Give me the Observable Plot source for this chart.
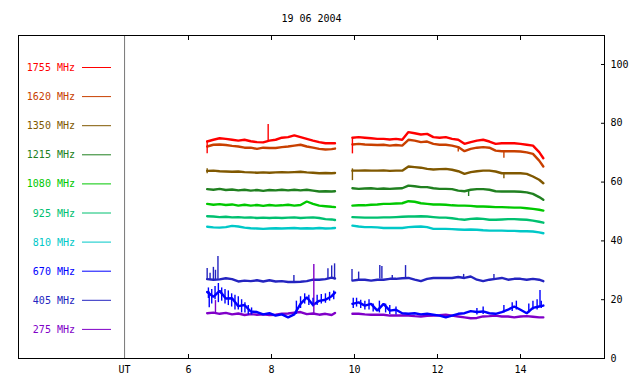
<!DOCTYPE html>
<html><head><meta charset="utf-8">
<script src="https://cdn.jsdelivr.net/npm/d3@7"></script>
<script src="https://cdn.jsdelivr.net/npm/@observablehq/plot@0.6"></script>
<style>
body{margin:0;background:#fff;}
#chart svg{display:block;}
</style></head><body><div id="chart"></div>
<script>
const title = "19 06 2004";
const freqs = [1755, 1620, 1350, 1215, 1080, 925, 810, 670, 405, 275];
const colors = ["#ff0000", "#c84000", "#805800", "#208020", "#00c800", "#00c070", "#00c8c8", "#0000ff", "#2424c0", "#8000c8"];
const xTicks = [6, 8, 10, 12, 14];
const yTicks = [0, 20, 40, 60, 80, 100];
const utStart = 4.46;

// sample times (UT hours); 9.75 is the data gap
const T = [6.45, 6.60, 6.75, 6.90, 7.05, 7.20, 7.35, 7.50, 7.65, 7.80, 7.95, 8.10, 8.25, 8.40, 8.55, 8.70, 8.85, 9.00, 9.15, 9.30, 9.45, 9.53,
  9.75,
  9.95, 10.10, 10.25, 10.40, 10.55, 10.70, 10.85, 11.00, 11.15, 11.30, 11.45, 11.60, 11.75, 11.90, 12.05, 12.20, 12.35, 12.50, 12.65, 12.80, 12.95, 13.10, 13.25, 13.40, 13.55, 13.70, 13.85, 14.00, 14.15, 14.30, 14.45, 14.55];

const s1755 = [73.8, 74.4, 74.9, 74.7, 74.4, 74.1, 74.4, 73.9, 73.6, 73.5, 74.1, 74.4, 75.1, 75.3, 75.9, 75.3, 74.7, 74.1, 73.6, 73.2, 73.2, 73.2,
  null,
  75.1, 75.3, 75.1, 74.9, 74.7, 74.7, 74.5, 74.7, 74.4, 77.0, 76.6, 76.2, 76.4, 75.3, 75.1, 75.3, 74.7, 74.4, 73.0, 73.6, 74.1, 74.4, 73.8, 73.0, 73.2, 73.2, 73.2, 73.0, 72.7, 72.4, 70.2, 68.1];
const s1620 = [72.1, 72.7, 72.8, 72.6, 72.3, 72.1, 71.7, 71.7, 71.3, 71.7, 71.6, 71.6, 71.9, 72.1, 72.4, 72.7, 72.1, 71.7, 71.3, 71.1, 71.2, 71.4,
  null,
  72.8, 73.0, 72.8, 72.7, 72.6, 72.7, 72.4, 72.6, 72.4, 74.4, 74.1, 73.6, 73.8, 73.0, 72.7, 72.7, 72.4, 71.9, 70.5, 71.3, 71.7, 71.9, 71.7, 70.7, 70.5, 70.5, 70.5, 70.4, 70.1, 69.6, 67.3, 65.3];
const s1350 = [63.8, 63.9, 63.7, 63.6, 63.5, 63.6, 63.4, 63.3, 63.2, 63.3, 63.2, 63.3, 63.4, 63.3, 63.4, 63.5, 63.3, 63.2, 63.0, 63.1, 63.0, 63.1,
  null,
  63.9, 63.9, 64.0, 63.9, 63.9, 64.0, 63.8, 63.9, 63.9, 65.3, 65.1, 64.9, 64.5, 64.3, 64.4, 64.5, 64.2, 63.7, 62.8, 63.4, 63.7, 63.9, 63.9, 63.6, 63.0, 63.0, 63.0, 63.0, 62.8, 61.9, 60.8, 59.6];
const s1215 = [57.6, 57.4, 57.7, 57.3, 57.5, 57.2, 57.4, 57.1, 57.3, 57.0, 57.3, 57.2, 57.4, 57.2, 57.4, 57.2, 57.4, 57.1, 56.8, 56.9, 56.8, 56.9,
  null,
  57.9, 57.7, 57.8, 57.9, 57.7, 57.8, 57.7, 57.8, 57.9, 58.8, 58.6, 58.3, 58.3, 57.9, 57.7, 57.7, 57.6, 57.1, 56.9, 57.4, 57.6, 57.6, 57.4, 56.9, 56.8, 56.8, 56.8, 56.7, 56.5, 56.0, 54.9, 54.0];
const s1080 = [52.6, 52.3, 52.5, 52.2, 52.4, 52.0, 52.3, 52.0, 52.2, 51.9, 52.2, 52.0, 52.1, 52.3, 52.0, 52.2, 53.4, 52.6, 52.0, 51.8, 51.6, 51.5,
  null,
  52.0, 52.1, 52.1, 52.3, 52.4, 52.6, 52.6, 52.7, 52.8, 53.5, 53.3, 52.8, 52.6, 52.4, 52.4, 52.3, 52.1, 52.0, 52.0, 51.9, 51.7, 51.7, 51.6, 51.5, 51.5, 51.4, 51.3, 51.3, 51.1, 50.9, 50.6, 50.3];
const s925 = [48.4, 48.3, 48.1, 48.2, 48.0, 48.1, 47.9, 48.0, 47.8, 47.9, 47.8, 47.9, 47.8, 47.9, 48.0, 47.8, 47.9, 48.0, 47.8, 47.4, 47.3, 47.1,
  null,
  48.1, 48.0, 47.9, 47.9, 47.9, 48.0, 48.0, 48.1, 48.2, 48.3, 48.3, 48.4, 48.3, 48.1, 47.9, 47.9, 47.7, 47.4, 47.2, 47.5, 47.6, 47.5, 47.2, 47.2, 47.3, 47.4, 47.4, 47.3, 47.2, 46.9, 46.5, 46.2];
const s810 = [44.8, 44.6, 44.5, 44.7, 45.1, 44.9, 44.5, 44.3, 44.2, 44.1, 44.2, 44.3, 44.2, 44.3, 44.4, 44.2, 44.3, 44.2, 44.4, 44.2, 44.3, 44.4,
  null,
  45.2, 44.9, 44.7, 44.7, 44.6, 44.4, 44.4, 44.4, 44.4, 44.7, 44.8, 44.9, 44.7, 44.1, 44.1, 44.1, 44.0, 43.9, 43.8, 43.9, 43.8, 43.6, 43.5, 43.5, 43.5, 43.4, 43.4, 43.3, 43.3, 43.2, 42.9, 42.6];
const s670 = [22.6, 21.0, 23.0, 20.4, 20.5, 17.8, 18.2, 16.0, 15.8, 15.0, 15.4, 14.6, 15.0, 14.0, 15.0, 18.6, 20.8, 18.2, 19.6, 20.0, 21.2, 22.4,
  null,
  18.6, 19.1, 18.0, 18.6, 16.3, 18.6, 16.3, 16.6, 15.4, 15.2, 15.4, 15.0, 15.2, 14.9, 14.6, 14.0, 14.6, 15.2, 15.4, 16.1, 15.8, 16.0, 15.4, 15.2, 15.8, 16.6, 17.7, 16.6, 15.4, 17.2, 17.7, 18.0];
const s405 = [27.0, 26.8, 26.9, 27.3, 27.0, 26.2, 26.5, 26.3, 26.6, 26.2, 26.6, 26.2, 26.3, 26.0, 26.0, 26.1, 26.3, 26.8, 26.8, 27.0, 27.5, 27.2,
  null,
  26.5, 26.8, 26.8, 26.5, 26.8, 26.8, 27.1, 27.1, 27.3, 27.4, 26.8, 26.3, 27.1, 27.4, 27.4, 27.4, 27.4, 27.7, 27.4, 27.9, 26.8, 26.3, 26.8, 27.1, 27.4, 26.8, 27.1, 27.1, 26.8, 27.1, 26.8, 26.3];
const s275 = [15.4, 15.6, 15.2, 15.5, 15.0, 15.3, 14.8, 15.1, 14.9, 15.0, 14.8, 14.9, 15.2, 15.3, 15.6, 15.8, 15.1, 15.3, 14.9, 15.2, 14.8, 15.5,
  null,
  15.2, 15.2, 15.0, 14.9, 14.9, 14.9, 14.6, 14.6, 14.6, 14.6, 14.4, 14.3, 14.5, 14.6, 14.7, 14.9, 14.6, 14.3, 14.0, 13.7, 13.8, 14.3, 14.4, 14.6, 14.3, 14.3, 14.0, 14.3, 14.4, 14.2, 14.0, 14.0];

// spikes / noise bursts: [time, low, high]
const spikes1755 = [[6.45, 69.6, 74.0], [7.92, 74.0, 79.6], [9.95, 69.6, 75.1]];
const spikes1620 = [[12.5, 70.2, 72.0], [13.6, 68.1, 70.5]];
const spikes1350 = [[6.45, 62.8, 64.5], [9.95, 60.5, 64.5], [13.6, 61.1, 63.0]];
const spikes1215 = [[12.75, 55.1, 57.0]];
const spikes670 = [[6.48, 20.4, 24.0], [6.50, 17.3, 22.6], [6.56, 18.5, 23.5], [6.64, 20.0, 24.5], [6.72, 19.0, 25.5], [6.80, 19.5, 24.0],
  [6.88, 18.5, 23.5], [6.96, 18.0, 23.0], [7.04, 17.5, 22.0], [7.12, 16.5, 21.5], [7.20, 16.5, 21.0], [7.28, 15.5, 20.0],
  [7.36, 15.5, 19.0], [7.44, 14.8, 18.0], [7.52, 14.8, 17.2], [8.60, 15.0, 19.5], [8.70, 17.0, 21.0], [8.80, 18.5, 22.0],
  [8.90, 18.0, 21.5], [9.00, 17.5, 20.5], [9.10, 18.0, 21.5], [9.20, 18.5, 21.8], [9.30, 18.8, 22.0], [9.40, 19.5, 22.5], [9.50, 20.0, 23.0],
  [9.97, 17.0, 20.5], [10.05, 17.5, 20.5], [10.15, 17.0, 19.8], [10.25, 16.5, 19.5], [10.35, 16.5, 20.0], [10.45, 15.8, 18.5],
  [10.60, 15.5, 19.5], [10.75, 15.5, 18.5], [10.85, 15.0, 18.0], [11.00, 14.8, 17.5], [12.95, 14.8, 17.0], [13.10, 15.0, 17.5],
  [13.60, 15.5, 18.0], [13.80, 16.0, 19.0], [13.90, 16.5, 19.5], [14.20, 15.5, 18.5], [14.30, 16.5, 19.5], [14.40, 16.5, 20.0],
  [14.47, 17.7, 23.1], [14.50, 17.0, 19.5]];
const spikes405 = [[6.45, 26.5, 30.6], [6.52, 26.5, 29.0], [6.60, 26.5, 31.0], [6.65, 26.5, 30.0], [6.71, 26.5, 34.7], [8.54, 26.0, 28.2],
  [9.36, 27.0, 30.5], [9.45, 27.0, 31.5], [9.52, 27.0, 32.2], [9.94, 26.5, 30.3], [10.10, 26.8, 29.4], [10.61, 27.0, 31.6],
  [10.66, 27.0, 31.3], [10.91, 27.1, 28.2], [11.23, 27.4, 31.6], [12.63, 27.4, 28.6], [13.36, 27.1, 28.6]];
const spikes275 = [[6.65, 15.4, 19.7], [9.02, 15.3, 32.0]];

const series = {1755: s1755, 1620: s1620, 1350: s1350, 1215: s1215, 1080: s1080, 925: s925, 810: s810, 670: s670, 405: s405, 275: s275};
const spikes = {1755: spikes1755, 1620: spikes1620, 1350: spikes1350, 1215: spikes1215, 670: spikes670, 405: spikes405, 275: spikes275};

const rows = [];
[...freqs].reverse().forEach(f => series[f].forEach((v, i) => rows.push({t: T[i], v, f: String(f)})));
const spikeRows = [];
[...freqs].reverse().forEach(f => (spikes[f] || []).forEach(([t, lo, hi]) => spikeRows.push({t, lo, hi, f: String(f)})));

const font = "'DejaVu Sans Mono', monospace";

const chart = Plot.plot({
  width: 640,
  height: 384,
  marginTop: 35,
  marginBottom: 26,
  marginLeft: 18,
  marginRight: 36,
  style: {fontFamily: font, fontSize: "10px", background: "#fff", color: "#000"},
  x: {domain: [1.904, 16.024]},
  y: {domain: [0, 109.86]},
  color: {domain: freqs.map(String), range: colors},
  marks: [
    Plot.ruleX([utStart], {stroke: "#777"}),
    Plot.line(rows, {x: "t", y: "v", z: "f", stroke: "f", strokeWidth: 2.4, strokeLinejoin: "miter"}),
    Plot.ruleX(spikeRows, {x: "t", y1: "lo", y2: "hi", stroke: "f", strokeWidth: 1.4}),
    Plot.axisX({anchor: "bottom", ticks: xTicks, tickSize: -4, tickPadding: 11, tickFormat: d => String(d), label: null}),
    Plot.axisX({anchor: "top", ticks: xTicks, tickSize: -4, tickFormat: () => "", label: null}),
    Plot.axisY({anchor: "right", ticks: yTicks, tickSize: -4, tickPadding: 10, tickFormat: d => String(d), label: null}),
    Plot.text([utStart], {x: d => d, text: () => "UT", frameAnchor: "bottom", lineAnchor: "top", dy: 7}),
    Plot.frame({stroke: "#000"}),
    Plot.text([title], {frameAnchor: "top", lineAnchor: "middle", dy: -17})
  ]
});

// legend inside the left panel
const svg = d3.select(chart);
const lg = svg.append("g").attr("font-family", font).attr("font-size", 10);
freqs.forEach((f, i) => {
  const y = 67.5 + i * 29.1;
  lg.append("text").attr("x", 75).attr("y", y).attr("dy", "0.35em")
    .attr("text-anchor", "end").attr("fill", colors[i]).text(f + " MHz");
  lg.append("line").attr("x1", 82).attr("x2", 111).attr("y1", y).attr("y2", y)
    .attr("stroke", colors[i]).attr("stroke-width", 1);
});

document.getElementById("chart").appendChild(chart);
</script>
</body></html>
